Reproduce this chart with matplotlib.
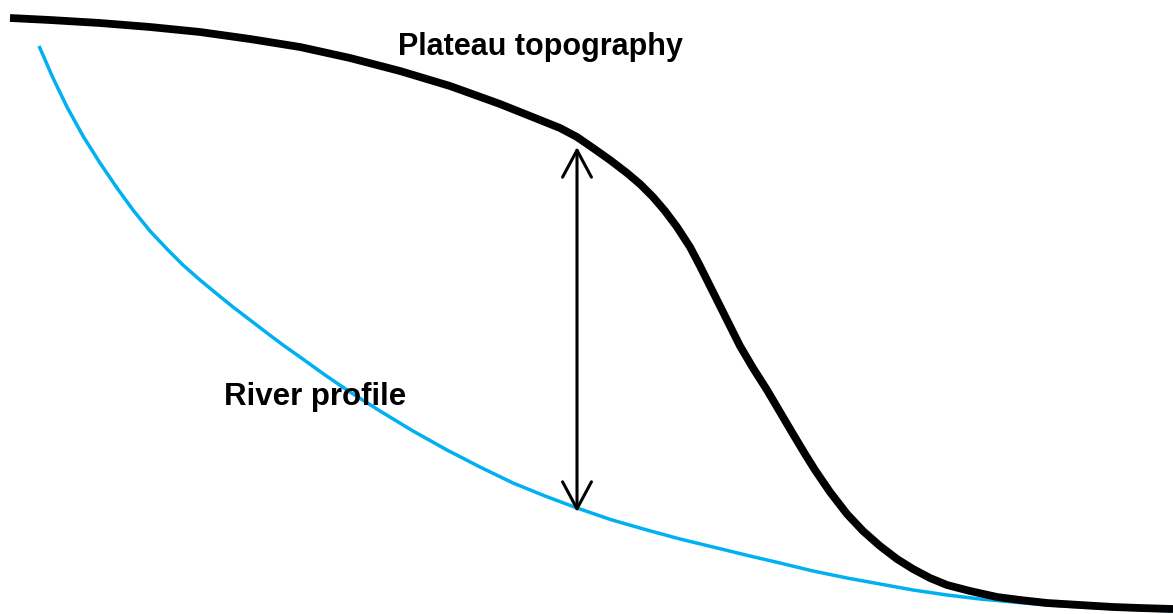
import matplotlib.pyplot as plt

# perfil do planalto (coordenadas, em pixels)
plateau_x = [10, 50, 100, 150, 200, 250, 300, 350, 400, 450, 500, 540, 560,
             577, 593, 610, 627, 640, 653, 665, 677, 690, 700, 710, 720, 730,
             740, 753, 767, 780, 793, 805, 815, 830, 847, 863, 880, 897, 913,
             930, 947, 970, 997, 1020, 1047, 1080, 1113, 1140, 1173]
plateau_y = [18, 20, 23, 27, 32, 39, 47, 58, 71, 86, 104, 120, 128,
             137, 148, 160, 173, 184, 197, 211, 227, 247, 266, 286, 306, 326,
             346, 368, 390, 412, 434, 454, 470, 492, 514, 531, 546, 559, 569,
             578, 585, 591, 597, 600, 603, 605, 607, 608, 609]

# perfil do rio
river_x = [39, 53, 67, 83, 100, 117, 133, 150, 167, 183, 200, 217, 233, 250,
           267, 283, 300, 325, 350, 380, 413, 447, 480, 513, 545, 577, 612,
           647, 680, 713, 750, 780, 813, 847, 880, 913, 947, 980, 1013, 1047,
           1080, 1120, 1173]
river_y = [46, 78, 107, 136, 163, 188, 210, 231, 249, 265, 280, 294, 307, 320,
           333, 345, 357, 375, 392, 411, 431, 450, 467, 483, 496, 508, 520,
           530, 539, 547, 556, 563, 571, 578, 584, 590, 595, 599, 602, 605,
           607, 609, 611]

# seta de desnível
arrow_x = 577
arrow_top = 147
arrow_bottom = 512

fig = plt.figure(figsize=(11.73, 6.14), dpi=100)
ax = fig.add_axes([0, 0, 1, 1])
ax.set_xlim(0, 1173)
ax.set_ylim(614, 0)
ax.axis('off')

ax.plot(river_x, river_y, color='#00B0F0', lw=2.5, solid_capstyle='butt',
        solid_joinstyle='round', zorder=1)
ax.plot(plateau_x, plateau_y, color='black', lw=5.6, solid_capstyle='butt',
        solid_joinstyle='round', zorder=2)

ax.annotate('', xy=(arrow_x, arrow_top), xytext=(arrow_x, arrow_bottom),
            arrowprops=dict(arrowstyle='<->,head_length=0.97,head_width=0.52',
                            lw=2.2, color='black', mutation_scale=20,
                            shrinkA=0, shrinkB=0), zorder=3)

ax.text(398, 55, 'Plateau topography', fontsize=22, fontweight='bold',
        family='Liberation Sans', va='baseline', ha='left', zorder=4)
ax.text(224, 405, 'River profile', fontsize=22.5, fontweight='bold',
        family='Liberation Sans', va='baseline', ha='left', zorder=4)

fig.savefig('out.png', dpi=100)
